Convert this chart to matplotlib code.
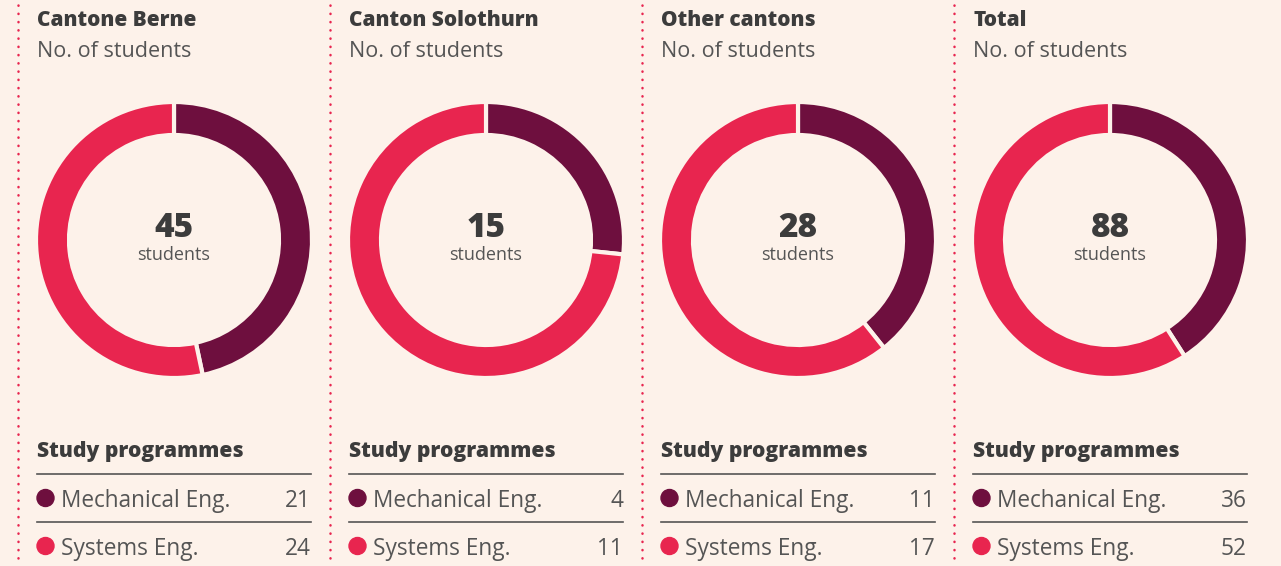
import matplotlib.pyplot as plt
from matplotlib.patches import Circle

# %% data
titles = ['Cantone Berne', 'Canton Solothurn', 'Other cantons', 'Total']
programmes = ['Mechanical Eng.', 'Systems Eng.']
mech = [21, 4, 11, 36]
syst = [24, 11, 17, 52]

# %% style
W, H = 1281, 566
bg = '#fdf2ea'
dark = '#6e0f3e'
pink = '#e8254f'
txt = '#3c3c3c'
grey = '#555555'
plt.rcParams['font.family'] = ['Open Sans', 'DejaVu Sans']


def Y(y):
    # pixel row (from top) -> data y
    return H - y


fig = plt.figure(figsize=(W / 100, H / 100), dpi=100, facecolor=bg)
ax = fig.add_axes([0, 0, 1, 1])
ax.set_facecolor(bg)

step = 312
for i, title in enumerate(titles):
    x0 = 37 + i * step
    x1 = x0 + 274
    cx = (x0 + x1) / 2

    # dotted separator
    xs = 18 + i * step
    ax.plot([xs, xs], [Y(5), Y(566)], color=pink, lw=1.8, linestyle=(0, (0.1, 3.2)),
            dash_capstyle='round')

    ax.text(x0, Y(26), title, fontsize=15, fontweight='heavy', color=txt, va='baseline')
    ax.text(x0, Y(57), 'No. of students', fontsize=15.5, color=grey, va='baseline')

    ax.pie([mech[i], syst[i]], colors=[dark, pink], startangle=90, counterclock=False,
           center=(cx, Y(240)), radius=138, frame=True,
           wedgeprops=dict(width=33, edgecolor=bg, linewidth=3))

    total = mech[i] + syst[i]
    ax.text(cx, Y(237), str(total), fontsize=24, fontweight='heavy', color=txt,
            ha='center', va='baseline')
    ax.text(cx, Y(260), 'students', fontsize=13, color=grey, ha='center', va='baseline')

    ax.text(x0, Y(457), 'Study programmes', fontsize=15.2, fontweight='heavy', color=txt,
            va='baseline')
    for yl in (474, 522):
        ax.plot([x0, x1], [Y(yl), Y(yl)], color=grey, lw=1.2)
    for yr, lab, val, col in zip((498, 546), programmes, (mech[i], syst[i]), (dark, pink)):
        ax.add_patch(Circle((x0 + 8.5, Y(yr)), 8.5, color=col))
        ax.text(x0 + 24, Y(yr + 9), lab, fontsize=16.3, color=grey, va='baseline')
        ax.text(x1, Y(yr + 9), str(val), fontsize=16.3, color=grey, va='baseline', ha='right')

ax.set_xlim(0, W)
ax.set_ylim(0, H)
ax.set_aspect('auto')
ax.axis('off')

plt.savefig('out.png', dpi=100, facecolor=bg)
